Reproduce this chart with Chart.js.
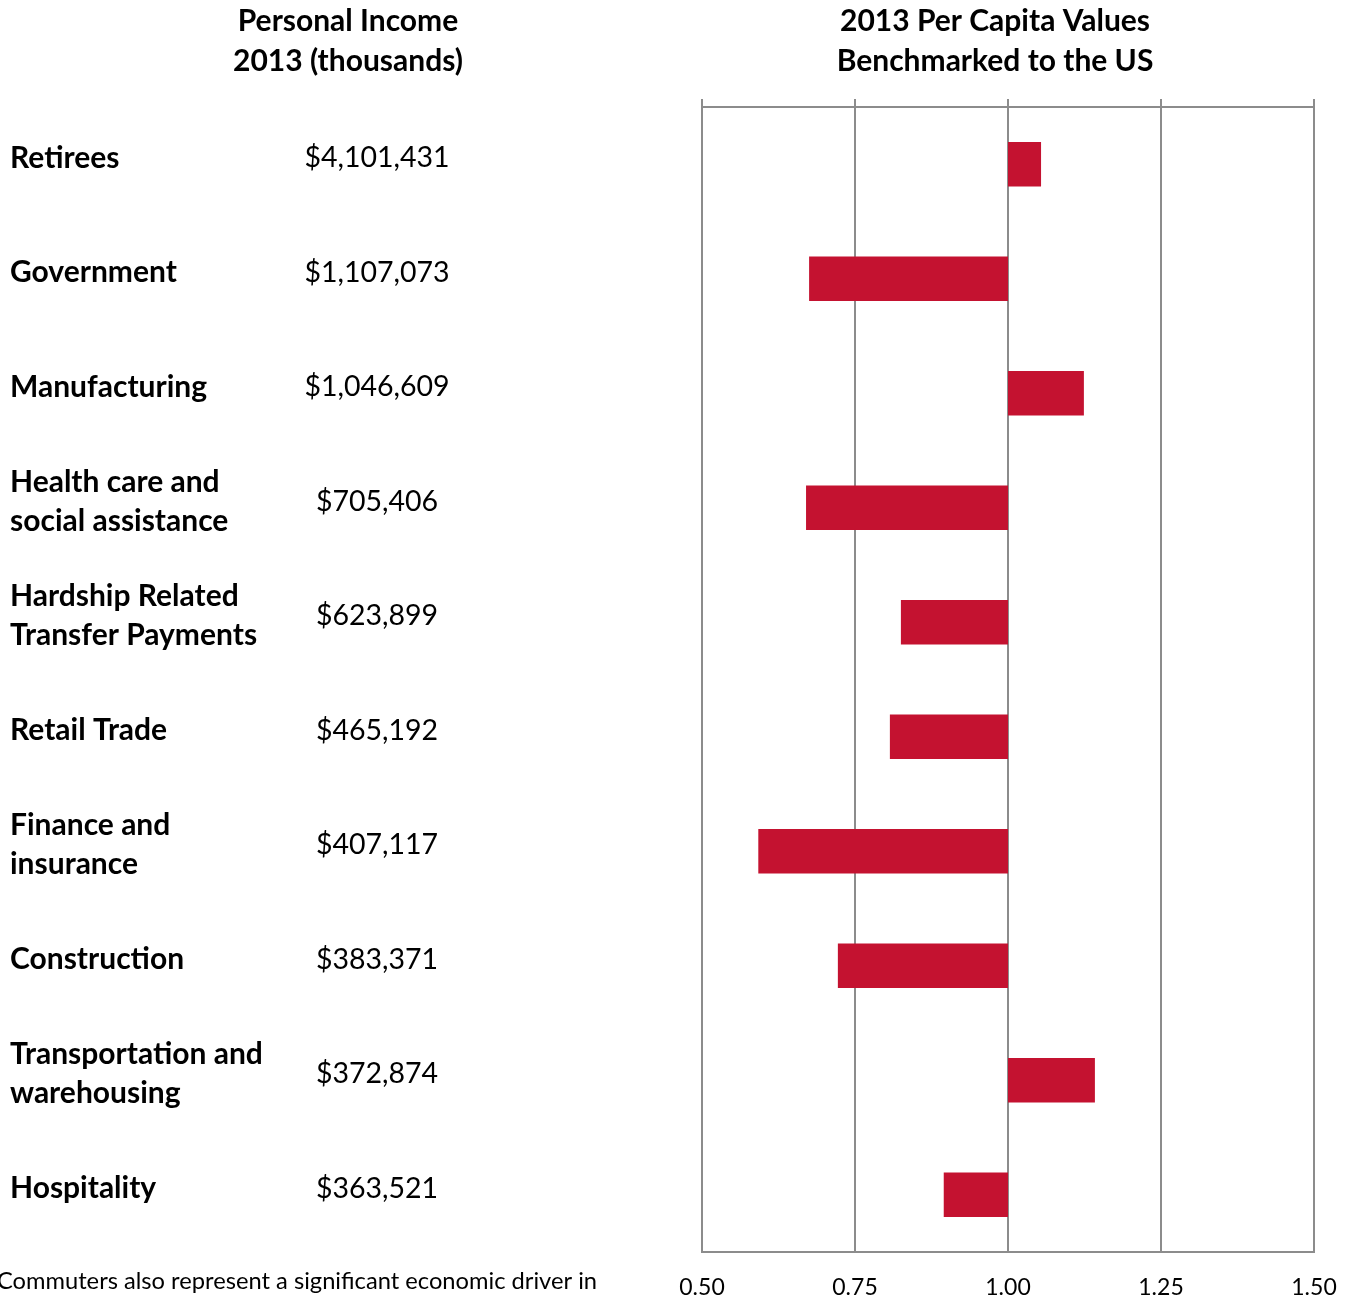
<!DOCTYPE html>
<html>
<head>
<meta charset="utf-8">
<script src="https://cdn.jsdelivr.net/npm/chart.js@4.4.0/dist/chart.umd.min.js"></script>
<style>
  body { margin: 0; background: #fff; }
  #wrap { width: 1354px; height: 1297px; }
</style>
</head>
<body>
<div id="wrap"><canvas id="perCapitaChart" width="1354" height="1297"></canvas></div>
<script>
// categories (multi-line labels as arrays)
const categories = [
  "Retirees",
  "Government",
  "Manufacturing",
  ["Health care and", "social assistance"],
  ["Hardship Related", "Transfer Payments"],
  "Retail Trade",
  ["Finance and", "insurance"],
  "Construction",
  ["Transportation and", "warehousing"],
  "Hospitality",
];
// personal income 2013 (thousands)
const personalIncome = [
  "$4,101,431", "$1,107,073", "$1,046,609", "$705,406", "$623,899",
  "$465,192", "$407,117", "$383,371", "$372,874", "$363,521",
];
// per capita values benchmarked to the US (1.00 = US)
const perCapita = [1.054, 0.675, 1.124, 0.670, 0.825, 0.807, 0.592, 0.722, 1.142, 0.895];
const usBaseline = 1.0;
const xTicks = [0.5, 0.75, 1.0, 1.25, 1.5];

const leftHeader = ["Personal Income", "2013 (thousands)"];
const rightHeader = ["2013 Per Capita Values", "Benchmarked to the US"];
const footnote = "Commuters also represent a significant economic driver in";

const FONT = "Lato, 'Open Sans', sans-serif";
const gridColor = "#8c8c8c";
const textShift = -6; // le texte est un peu au-dessus du centre des barres

// texte à gauche, en-têtes et note de bas de page
const sideText = {
  id: "sideText",
  afterDraw(chart) {
    const ctx = chart.ctx;
    const y = chart.scales.y;
    ctx.save();
    ctx.fillStyle = "#000";
    ctx.textBaseline = "middle";

    ctx.font = "bold 30px " + FONT;
    ctx.textAlign = "center";
    leftHeader.forEach((t, i) => ctx.fillText(t, 348, 21 + i * 40));
    rightHeader.forEach((t, i) => ctx.fillText(t, 995, 21 + i * 40));

    ctx.font = "28.5px " + FONT;
    personalIncome.forEach((v, i) => {
      ctx.fillText(v, 377, y.getPixelForValue(i) + textShift);
    });

    ctx.font = "23.7px " + FONT;
    ctx.textAlign = "left";
    ctx.fillText(footnote, -3, 1281);
    ctx.restore();
  },
};

// pas de marge supplémentaire pour les libellés des axes x
function noSidePadding(scale) {
  scale.paddingLeft = 0;
  scale.paddingRight = 0;
}

const chart = new Chart(document.getElementById("perCapitaChart"), {
  type: "bar",
  data: {
    labels: categories,
    datasets: [
      {
        label: "Per capita vs US",
        data: perCapita.map((v) => [usBaseline, v]),
        backgroundColor: "#c41230",
        borderWidth: 0,
        barPercentage: 0.39,
        categoryPercentage: 1.0,
      },
    ],
  },
  options: {
    indexAxis: "y",
    responsive: false,
    animation: false,
    layout: { padding: { left: 10, right: 40, top: 99, bottom: 0 } },
    plugins: {
      legend: { display: false },
      tooltip: { enabled: false },
    },
    scales: {
      x: {
        position: "bottom",
        min: 0.5,
        max: 1.5,
        afterBuildTicks: (scale) => {
          scale.ticks = xTicks.map((v) => ({ value: v }));
        },
        afterFit: (scale) => {
          scale.height = 45;
          noSidePadding(scale);
        },
        grid: {
          color: gridColor,
          lineWidth: 2,
          drawTicks: false,
        },
        border: { display: true, color: gridColor, width: 2 },
        ticks: {
          padding: 22,
          color: "#000",
          font: { family: FONT, size: 23 },
          callback: (v) => Number(v).toFixed(2),
        },
      },
      x2: {
        position: "top",
        min: 0.5,
        max: 1.5,
        afterBuildTicks: (scale) => {
          scale.ticks = xTicks.map((v) => ({ value: v }));
        },
        afterFit: (scale) => {
          scale.height = 8;
          noSidePadding(scale);
        },
        grid: {
          color: gridColor,
          lineWidth: 2,
          drawOnChartArea: false,
          drawTicks: true,
          tickLength: 8,
        },
        border: { display: true, color: gridColor, width: 2 },
        ticks: { display: false },
      },
      y: {
        afterFit: (scale) => {
          scale.width = 692;
        },
        grid: { display: false, drawTicks: false },
        border: { display: false },
        ticks: {
          crossAlign: "far",
          padding: 0,
          labelOffset: textShift,
          color: "#000",
          font: { family: FONT, size: 30, weight: "bold", lineHeight: 1.3 },
        },
      },
    },
  },
  plugins: [sideText],
});
</script>
</body>
</html>
